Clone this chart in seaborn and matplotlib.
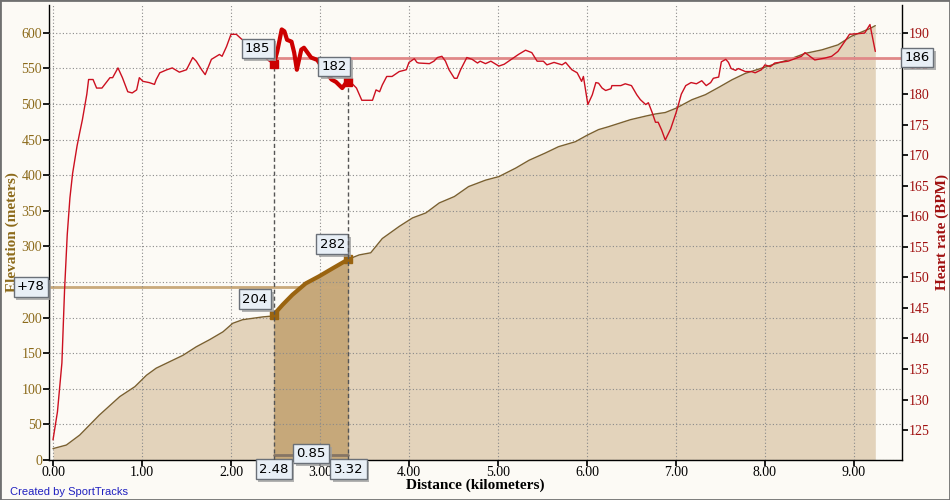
import matplotlib
matplotlib.use("Agg")
import matplotlib.pyplot as plt
from matplotlib.patches import Rectangle
from matplotlib import patheffects
import seaborn as sns
import pandas as pd

# elevation profile (km, m)
elev_km = [0.00, 0.15, 0.30, 0.41, 0.52, 0.75, 0.92, 1.05, 1.16, 1.31, 1.46, 1.61, 1.76,
           1.91, 2.02, 2.13, 2.36, 2.45, 2.48, 2.58, 2.69, 2.84, 2.99, 3.14, 3.32, 3.44,
           3.57, 3.70, 3.89, 4.04, 4.19, 4.34, 4.51, 4.67, 4.86, 5.01, 5.20, 5.35, 5.53,
           5.68, 5.87, 6.00, 6.13, 6.24, 6.49, 6.66, 6.77, 6.88, 7.00, 7.18, 7.33, 7.49,
           7.63, 7.78, 7.93, 8.26, 8.45, 8.64, 8.82, 8.97, 9.18, 9.24]
elev_m = [16, 21, 35, 49, 63, 89, 103, 119, 129, 138, 147, 159, 169,
          180, 192, 197, 201, 202, 204, 218, 232, 248, 258, 269, 282, 288,
          291, 311, 328, 340, 347, 361, 370, 384, 393, 398, 410, 421, 431,
          440, 447, 456, 464, 468, 478, 483, 486, 488, 494, 506, 513, 524,
          534, 543, 549, 562, 571, 576, 583, 595, 606, 610]

# heart rate (km, bpm)
hr_km = [0.00, 0.05, 0.10, 0.13, 0.16, 0.19, 0.22, 0.27, 0.30, 0.33, 0.38, 0.40, 0.45, 0.49,
         0.55, 0.64, 0.67, 0.73, 0.78, 0.84, 0.89, 0.94, 0.97, 1.01, 1.08, 1.14, 1.16, 1.20,
         1.28, 1.34, 1.42, 1.50, 1.57, 1.61, 1.67, 1.71, 1.78, 1.87, 1.90, 1.95, 2.00,
         2.06, 2.12, 2.17, 2.30, 2.42, 2.45, 2.48, 2.49, 2.52, 2.57, 2.60, 2.63, 2.68,
         2.71, 2.74, 2.79, 2.82, 2.86, 2.90, 2.97, 3.02, 3.13, 3.18, 3.25, 3.30, 3.32,
         3.35, 3.41, 3.47, 3.59, 3.63, 3.67, 3.70, 3.75, 3.81, 3.89, 3.97, 4.00, 4.06,
         4.09, 4.11, 4.23, 4.28, 4.32, 4.37, 4.41, 4.45, 4.51, 4.54, 4.58, 4.65, 4.71,
         4.77, 4.80, 4.86, 4.92, 5.01, 5.07, 5.12, 5.18, 5.23, 5.31, 5.38, 5.44, 5.51,
         5.55, 5.63, 5.72, 5.76, 5.83, 5.89, 5.94, 5.96, 6.01, 6.06, 6.10, 6.13, 6.17,
         6.21, 6.27, 6.28, 6.38, 6.43, 6.50, 6.56, 6.60, 6.66, 6.69, 6.73, 6.77, 6.80,
         6.84, 6.88, 6.94, 7.00, 7.03, 7.06, 7.11, 7.17, 7.23, 7.29, 7.34, 7.39, 7.42,
         7.48, 7.51, 7.56, 7.59, 7.62, 7.67, 7.70, 7.78, 7.85, 7.89, 7.96, 8.00, 8.06,
         8.11, 8.26, 8.41, 8.45, 8.56, 8.67, 8.75, 8.82, 8.90, 8.95, 9.12, 9.18, 9.24]
hr_bpm = [123.4, 128.0, 136.0, 148.0, 157.0, 163.0, 167.0, 171.5, 173.7, 175.8, 180.0, 182.4,
          182.4, 181.0, 181.0,
          182.7, 182.7, 184.3, 182.7, 180.4, 180.2, 180.7, 182.7, 182.1, 181.9, 181.6, 182.4, 183.5,
          184.0, 184.3, 183.6, 184.0, 186.0, 185.4, 184.0, 183.2, 185.7, 186.5, 186.2, 187.8, 189.8,
          189.8, 189.0, 188.7, 187.0, 185.5, 185.2, 185.0, 185.4, 187.0, 190.6, 190.3, 188.9, 188.6,
          186.8, 184.0, 187.3, 187.6, 186.8, 186.0, 185.6, 184.5, 182.4, 182.0, 181.0, 182.0, 182.0,
          181.9, 181.0, 179.0, 179.0, 180.7, 180.4, 181.5, 182.9, 182.9, 183.7, 184.0, 185.2, 185.8,
          185.2, 185.1, 185.0, 185.4, 186.0, 186.2, 185.4, 184.0, 182.6, 182.6, 184.0, 186.0, 185.7,
          185.1, 185.4, 185.0, 185.4, 184.6, 184.9, 185.4, 186.0, 186.5, 187.2, 186.8, 185.4, 185.4,
          184.8, 185.2, 184.8, 185.2, 184.0, 183.5, 182.1, 182.9, 178.3, 179.9, 181.9, 181.8, 181.0,
          180.6, 180.9, 181.4, 181.4, 181.7, 181.4, 179.9, 179.1, 178.3, 178.6, 177.1, 175.4, 175.4,
          174.1, 172.5, 174.3, 176.9, 178.4, 180.0, 181.4, 181.9, 181.7, 182.2, 181.4, 181.9, 182.6,
          182.8, 185.3, 185.7, 185.2, 184.2, 183.9, 184.2, 183.7, 183.7, 183.5, 184.0, 184.8, 184.5,
          185.1, 185.4, 186.2, 186.8, 185.6, 185.9, 186.2, 187.0, 188.7, 189.8, 190.0, 191.4, 187.0]

# selected range and its summary values
sel_start, sel_end = 2.48, 3.32
sel_length = "0.85"
sel_gain = "+78"
sel_elev_avg = 243
sel_hr_avg = 186

BG = "#fcfaf5"
FILL = "#e3d3bb"
FILL_SEL = "#c6a87a"
ELEV_LINE = "#7a6030"
ELEV_SEL = "#9a6410"
HR_LINE = "#cc1020"
HR_SEL = "#cc0000"
LEFT_TXT = "#8c6a1a"
RIGHT_TXT = "#a01010"

sns.set_theme(style="ticks")
plt.rcParams["font.family"] = ["Liberation Serif", "DejaVu Serif"]

elev = pd.DataFrame({"km": elev_km, "m": elev_m})
hr = pd.DataFrame({"km": hr_km, "bpm": hr_bpm})
elev_sel = elev[(elev.km >= sel_start) & (elev.km <= sel_end)]
hr_sel = hr[(hr.km >= sel_start) & (hr.km <= sel_end)]

fig = plt.figure(figsize=(9.5, 5), dpi=100, facecolor=BG)
ax = fig.add_axes([49 / 950, 1 - 460 / 500, 853 / 950, 455 / 500])
ax.set_facecolor(BG)
ax2 = ax.twinx()

ax.fill_between(elev.km, elev.m, 0, color=FILL, lw=0, zorder=1)
ax.fill_between(elev_sel.km, elev_sel.m, 0, color=FILL_SEL, lw=0, zorder=1.5)
sns.lineplot(data=elev, x="km", y="m", ax=ax, color=ELEV_LINE, lw=1, sort=False, zorder=3)
sns.lineplot(data=elev_sel, x="km", y="m", ax=ax, color=ELEV_SEL, lw=3, sort=False, zorder=4)
ax.plot([elev_sel.km.iloc[0], elev_sel.km.iloc[-1]], [elev_sel.m.iloc[0], elev_sel.m.iloc[-1]],
        ls="none", marker="s", ms=6, color=ELEV_SEL, zorder=5)
ax.plot([-0.05, sel_end], [sel_elev_avg, sel_elev_avg], color="#c9a97a", lw=2, zorder=2.5,
        clip_on=False)
ax.plot([sel_start, sel_end], [7, 7], color="#857565", lw=2, zorder=3)

ax.set_xlim(-0.045, 9.54)
ax.set_ylim(0, 639)
ax.set_xticks([0, 1, 2, 3, 4, 5, 6, 7, 8, 9])
ax.set_xticklabels([f"{v:.2f}" for v in range(10)])
ax.set_yticks(range(0, 601, 50))
ax.grid(True, color="#8a8a8a", ls=(0, (1, 2)), lw=0.8)
ax.set_axisbelow(False)
ax.tick_params(axis="x", colors="black", labelsize=10, length=4, direction="out", pad=0)
ax.tick_params(axis="y", colors="black", labelcolor=LEFT_TXT, labelsize=10, length=4,
               direction="out", pad=1)
ax.set_xlabel("Distance (kilometers)", fontsize=11, fontweight="bold", color="black", labelpad=0)
ax.set_ylabel("Elevation (meters)", fontsize=11, fontweight="bold", color=LEFT_TXT, labelpad=2)
for s in ["top", "right"]:
    ax.spines[s].set_visible(False)
for s in ["left", "bottom"]:
    ax.spines[s].set_color("black")
    ax.spines[s].set_linewidth(1)

sns.lineplot(data=hr, x="km", y="bpm", ax=ax2, color=HR_LINE, lw=1, sort=False, zorder=3)
sns.lineplot(data=hr_sel, x="km", y="bpm", ax=ax2, color=HR_SEL, lw=3, sort=False, zorder=4)
ax2.plot([hr_sel.km.iloc[0], hr_sel.km.iloc[-1]], [hr_sel.bpm.iloc[0], hr_sel.bpm.iloc[-1]],
         ls="none", marker="s", ms=6, color=HR_SEL, zorder=5)
ax2.plot([sel_start, 9.54], [sel_hr_avg, sel_hr_avg], color="#e08888", lw=2, zorder=2)
ax2.vlines([hr_sel.km.iloc[0], hr_sel.km.iloc[-1]], 120.1,
           [hr_sel.bpm.iloc[0], hr_sel.bpm.iloc[-1]], colors="#555555", lw=1,
           linestyles=(0, (3, 2)), zorder=2)
ax2.set_ylim(120.1, 194.6)
ax2.set_yticks(range(125, 191, 5))
ax2.grid(False)
ax2.tick_params(axis="y", colors="black", labelcolor=RIGHT_TXT, labelsize=10, length=4,
                direction="out", pad=1)
ax2.set_ylabel("Heart rate (BPM)", fontsize=11, fontweight="bold", color=RIGHT_TXT, labelpad=4)
for s in ["top", "left", "bottom"]:
    ax2.spines[s].set_visible(False)
ax2.spines["right"].set_color("black")
ax2.spines["right"].set_linewidth(1)


def box(axis, x, y, txt):
    t = axis.text(x, y, txt, ha="center", va="center", fontsize=9.5, family="DejaVu Sans",
                  color="black", zorder=10, clip_on=False,
                  bbox=dict(boxstyle="square,pad=0.25", fc="#e8eff6", ec="#6a7078", lw=1))
    t.get_bbox_patch().set_path_effects(
        [patheffects.withSimplePatchShadow(offset=(2, -2), shadow_rgbFace="#a0a0a0", alpha=0.8)])


box(ax2, 2.30, 187.5, f"{hr_sel.bpm.iloc[0]:.0f}")
box(ax2, 3.16, 184.5, f"{hr_sel.bpm.iloc[-1]:.0f}")
box(ax2, 9.71, sel_hr_avg, str(sel_hr_avg))
box(ax, 2.27, 226, f"{elev_sel.m.iloc[0]}")
box(ax, 3.14, 303, f"{elev_sel.m.iloc[-1]}")
box(ax, -0.25, sel_elev_avg, sel_gain)
box(ax, 2.90, 9, sel_length)
box(ax, sel_start, -13, f"{sel_start:.2f}")
box(ax, sel_end, -13, f"{sel_end:.2f}")

fig.text(10 / 950, 1 - 492 / 500, "Created by SportTracks", color="#2020c0", fontsize=8,
         family="Liberation Sans", va="center")
fig.patches.append(Rectangle((0, 0), 1, 1, transform=fig.transFigure, fill=False,
                             ec="#707070", lw=2))

fig.savefig("out.png", dpi=100, facecolor=BG)
